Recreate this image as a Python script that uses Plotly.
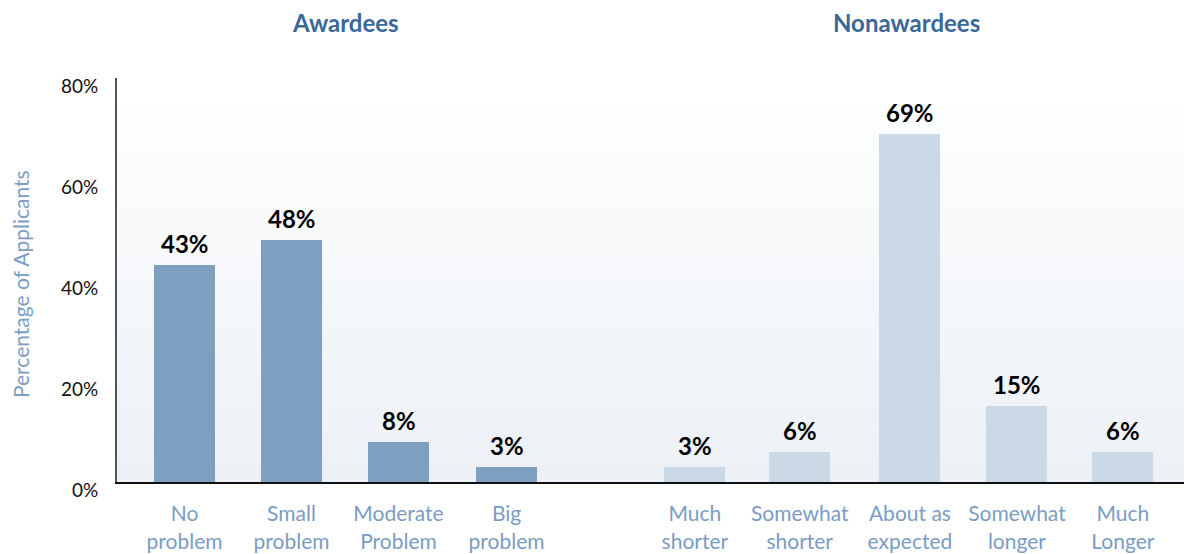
import plotly.graph_objects as go

# ---- data ----
awardee_labels = ["No<br>problem", "Small<br>problem", "Moderate<br>Problem", "Big<br>problem"]
awardee_values = [43, 48, 8, 3]
nonawardee_labels = ["Much<br>shorter", "Somewhat<br>shorter", "About as<br>expected", "Somewhat<br>longer", "Much<br>Longer"]
nonawardee_values = [3, 6, 69, 15, 6]
group_titles = ["Awardees", "Nonawardees"]
y_ticks = [0, 20, 40, 60, 80]
y_tick_text = ["0%", "20%", "40%", "60%", "80%"]
y_title = "Percentage of Applicants"

# slot positions (category slots with a gap between groups)
aw_x = [0, 1, 2, 3.01]
na_x = [4.77, 5.75, 6.78, 7.78, 8.77]

FONT = "Lato"
LABEL_BLUE = "#7b9cc4"

fig = go.Figure()
fig.add_trace(go.Bar(x=aw_x, y=awardee_values, width=0.57,
                     marker=dict(color="#7f9fc1", line=dict(width=0)),
                     hoverinfo="skip", showlegend=False))
fig.add_trace(go.Bar(x=na_x, y=nonawardee_values, width=0.57,
                     marker=dict(color="#cbd9e6", line=dict(width=0)),
                     hoverinfo="skip", showlegend=False))

# value labels
for xs, vs in ((aw_x, awardee_values), (na_x, nonawardee_values)):
    for x, v in zip(xs, vs):
        fig.add_annotation(x=x, y=v, text=f"<b>{v}%</b>", showarrow=False,
                           yanchor="bottom", yshift=5,
                           font=dict(family=FONT, size=24, color="#000000"))

# group titles
for x, t in zip([1.5, 6.75], group_titles):
    fig.add_annotation(x=x, xref="x", y=1, yref="paper", yshift=56, text=f"<b>{t}</b>",
                       showarrow=False, yanchor="middle",
                       font=dict(family=FONT, size=24, color="#3a6898"))

# y tick labels (slightly below their gridline positions, as in the original)
for v, t in zip(y_ticks, y_tick_text):
    fig.add_annotation(x=0, xref="paper", y=v, yref="y", text=t, showarrow=False,
                       xanchor="right", yanchor="middle", xshift=-17, yshift=-7,
                       font=dict(family=FONT, size=19, color="#111111"))

# y axis title
fig.add_annotation(x=0, xref="paper", y=0.49, yref="paper", text=y_title, textangle=-90,
                   showarrow=False, xanchor="center", yanchor="middle", xshift=-97,
                   font=dict(family=FONT, size=21, color=LABEL_BLUE))

# background gradient (banded) behind bars
def lerp(c1, c2, t):
    return "#%02x%02x%02x" % tuple(round(a + (b - a) * t) for a, b in zip(c1, c2))

top_c = (255, 255, 255)
bot_c = (236, 241, 246)
n = 16
step = 80 / n
for i in range(n):
    y0 = i * step
    t = 1 - (i + 0.5) / n
    fig.add_shape(type="rect", xref="paper", yref="y", x0=0, x1=1, y0=y0, y1=y0 + step,
                  fillcolor=lerp(top_c, bot_c, t), line=dict(width=0), layer="below")

fig.update_layout(
    width=1192, height=554,
    margin=dict(l=109, r=9, t=70, b=80, autoexpand=False),
    paper_bgcolor="white", plot_bgcolor="white",
    bargap=0,
    font=dict(family=FONT),
    xaxis=dict(range=[-0.631, 9.407], tickmode="array",
               tickvals=aw_x + na_x, ticktext=awardee_labels + nonawardee_labels,
               tickfont=dict(family=FONT, size=21, color=LABEL_BLUE),
               showgrid=False, zeroline=False, showline=True, linecolor="#111111", linewidth=2,
               ticks="", ticklabelstandoff=12, fixedrange=True, automargin=False),
    yaxis=dict(range=[0, 80], showticklabels=False,
               showgrid=False, zeroline=False, showline=True, linecolor="#555555", linewidth=2,
               ticks="", automargin=False, fixedrange=True),
)

fig.write_html("out.html")
